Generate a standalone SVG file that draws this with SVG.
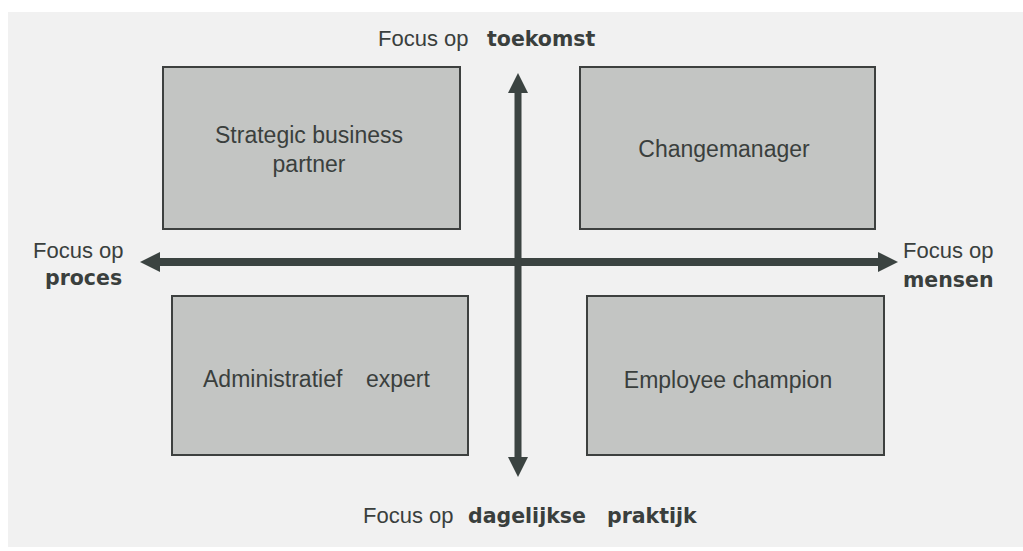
<svg xmlns="http://www.w3.org/2000/svg" width="1023" height="551" viewBox="0 0 1023 551">
  <defs>
    <marker id="ah" viewBox="0 0 20 20" refX="0" refY="10" markerWidth="20" markerHeight="20" markerUnits="userSpaceOnUse" orient="auto-start-reverse">
      <path d="M0,0 L20,10 L0,20 z" fill="#3b4341"/>
    </marker>
    <style>
      .box { fill: #c3c5c3; stroke: #3d403f; stroke-width: 2; }
      .lbl { font-family: "Liberation Sans", Arial, sans-serif; font-size: 23px; fill: #3a3f3d; }
      .reg { font-family: "Liberation Sans", Arial, sans-serif; font-size: 22px; fill: #3a3f3d; }
      .bold { font-family: "DejaVu Sans", Verdana, sans-serif; font-weight: bold; font-size: 20.5px; fill: #3a3f3d; }
      .axis { stroke: #3b4341; fill: none; }
    </style>
  </defs>
  <rect x="0" y="0" width="1023" height="551" fill="#ffffff"/>
  <rect x="8" y="12" width="1015" height="535" fill="#f1f1f1"/>

  <g id="connectors">
    <line class="axis" x1="160" y1="262" x2="878" y2="262" stroke-width="8" marker-start="url(#ah)" marker-end="url(#ah)"/>
    <line class="axis" x1="518" y1="93" x2="518" y2="457" stroke-width="7" marker-start="url(#ah)" marker-end="url(#ah)"/>
  </g>

  <g id="node-strategic">
    <rect class="box" x="163" y="67" width="297" height="162"/>
    <text class="lbl" text-anchor="middle"><tspan x="309" y="143">Strategic business</tspan><tspan x="309" y="172">partner</tspan></text>
  </g>
  <g id="node-change">
    <rect class="box" x="580" y="67" width="295" height="162"/>
    <text class="lbl" x="724" y="157" text-anchor="middle">Changemanager</text>
  </g>
  <g id="node-admin">
    <rect class="box" x="172" y="296" width="296" height="159"/>
    <text class="lbl" y="387"><tspan x="203">Administratief</tspan><tspan x="366">expert</tspan></text>
  </g>
  <g id="node-employee">
    <rect class="box" x="587" y="296" width="297" height="159"/>
    <text class="lbl" x="728" y="388" text-anchor="middle">Employee champion</text>
  </g>

  <g id="label-top">
    <text y="46"><tspan class="reg" x="378">Focus op</tspan><tspan class="bold" x="487">toekomst</tspan></text>
  </g>
  <g id="label-bottom">
    <text y="523"><tspan class="reg" x="363">Focus op</tspan><tspan class="bold" x="468">dagelijkse</tspan><tspan class="bold" x="607">praktijk</tspan></text>
  </g>
  <g id="label-left">
    <text class="reg" x="33" y="258">Focus op</text>
    <text class="bold" x="45" y="285">proces</text>
  </g>
  <g id="label-right">
    <text class="reg" x="903" y="258">Focus op</text>
    <text class="bold" x="903" y="287">mensen</text>
  </g>
</svg>
